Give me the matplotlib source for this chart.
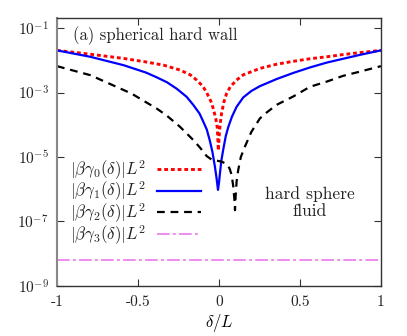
import numpy as np
import matplotlib
matplotlib.use("Agg")
import matplotlib.pyplot as plt

plt.rcParams['mathtext.fontset'] = 'cm'
plt.rcParams['font.family'] = ['cmr10', 'DejaVu Serif']
plt.rcParams['axes.formatter.use_mathtext'] = True

# delta/L sample points and log10 of |beta gamma_i(delta)| L^2
delta_g0 = [-1.0, -0.794, -0.589, -0.45, -0.341, -0.241, -0.177, -0.138, -0.10, -0.076,
            -0.05, -0.035, -0.02, -0.010, -0.004, 0.002, 0.008, 0.016, 0.03, 0.047,
            0.07, 0.109, 0.15, 0.253, 0.356, 0.459, 0.562, 0.665, 0.767, 0.870, 1.0]
log_g0 = [-1.69, -1.81, -1.94, -2.05, -2.15, -2.30, -2.45, -2.61, -2.80, -3.00,
          -3.27, -3.50, -3.80, -4.10, -4.80, -4.30, -3.95, -3.65, -3.30, -3.03,
          -2.82, -2.61, -2.45, -2.25, -2.12, -2.03, -1.95, -1.89, -1.82, -1.76, -1.69]

delta_g1 = [-1.0, -0.794, -0.589, -0.45, -0.383, -0.321, -0.261, -0.2, -0.159, -0.12,
            -0.097, -0.075, -0.056, -0.04, -0.025, -0.015, -0.006, 0.0, 0.006, 0.015,
            0.027, 0.042, 0.058, 0.08, 0.109, 0.15, 0.2, 0.253, 0.356, 0.459, 0.562,
            0.665, 0.767, 0.870, 1.0]
log_g1 = [-1.69, -1.89, -2.15, -2.38, -2.53, -2.68, -2.88, -3.13, -3.38, -3.65,
          -3.90, -4.15, -4.50, -4.85, -5.30, -5.65, -6.02, -5.80, -5.51, -5.10,
          -4.75, -4.35, -4.06, -3.75, -3.44, -3.15, -2.95, -2.80, -2.58, -2.39, -2.22,
          -2.07, -1.95, -1.83, -1.69]

delta_g2 = [-1.0, -0.794, -0.589, -0.54, -0.45, -0.383, -0.321, -0.241, -0.159, -0.115,
            -0.076, -0.045, -0.014, 0.02, 0.047, 0.065, 0.078, 0.088, 0.095, 0.099,
            0.103, 0.109, 0.119, 0.135, 0.160, 0.2, 0.253, 0.294, 0.356, 0.459, 0.562,
            0.665, 0.767, 0.870, 1.0]
log_g2 = [-2.18, -2.46, -2.92, -3.03, -3.30, -3.50, -3.72, -4.06, -4.47, -4.72,
          -4.97, -5.08, -5.11, -5.15, -5.22, -5.35, -5.55, -5.90, -6.30, -6.65,
          -6.20, -5.75, -5.40, -5.00, -4.68, -4.22, -3.80, -3.62, -3.38, -3.12, -2.82,
          -2.66, -2.48, -2.35, -2.18]

delta_g3 = [-1.0, 1.0]
log_g3 = [-8.21, -8.21]

labels = [r'$|\beta\gamma_0(\delta)|L^2$', r'$|\beta\gamma_1(\delta)|L^2$',
          r'$|\beta\gamma_2(\delta)|L^2$', r'$|\beta\gamma_3(\delta)|L^2$']
xticks = [-1, -0.5, 0, 0.5, 1]
xticklabels = ['-1', '-0.5', '0', '0.5', '1']
yticks = [1e-9, 1e-7, 1e-5, 1e-3, 1e-1]
yticklabels = [r'$10^{-9}$', r'$10^{-7}$', r'$10^{-5}$', r'$10^{-3}$', r'$10^{-1}$']

fig = plt.figure(figsize=(4.07, 3.36), dpi=100)
ax = fig.add_axes([0.140, 0.149, 0.796, 0.797])

ax.plot(delta_g0, 10**np.array(log_g0), color='#ff0000', lw=2.1, linestyle=(0, (1.3, 1.0)), label=labels[0])
ax.plot(delta_g1, 10**np.array(log_g1), color='#0000ff', lw=1.6, linestyle='-', label=labels[1])
ax.plot(delta_g2, 10**np.array(log_g2), color='black', lw=1.6, linestyle=(0, (3.5, 2.6)), label=labels[2])
ax.plot(delta_g3, 10**np.array(log_g3), color='#ee82ee', lw=1.3, linestyle=(0, (7, 1.8, 1.6, 1.8)), label=labels[3])

ax.set_yscale('log')
ax.set_xlim(-1, 1)
ax.set_ylim(1e-9, 0.204)
ax.set_xticks(xticks)
ax.set_xticklabels(xticklabels)
ax.set_yticks(yticks)
ax.set_yticklabels(yticklabels)
ax.minorticks_off()
ax.tick_params(direction='in', length=5, width=0.8, top=True, right=True,
               labelsize=11, colors='#333333', labelcolor='#222222')
ax.tick_params(axis='x', pad=7)
ax.tick_params(axis='y', pad=6)
for side in ['bottom', 'right', 'top']:
    ax.spines[side].set_color('#333333')
    ax.spines[side].set_linewidth(1.0)
ax.spines['left'].set_color('#888888')
ax.spines['left'].set_linewidth(1.5)

ax.set_xlabel(r'$\delta/L$', fontsize=12, labelpad=2)

ax.text(0.049, 0.935, '(a) spherical hard wall', transform=ax.transAxes,
        fontsize=12, ha='left', va='center', color='#222222')
ax.text(0.78, 0.31, 'hard sphere\nfluid', transform=ax.transAxes,
        fontsize=12.6, ha='center', va='center', color='#222222', linespacing=1.12)

leg = ax.legend(loc='upper left', bbox_to_anchor=(0.02, 0.503), frameon=False,
                markerfirst=False, fontsize=12.2, handlelength=2.6, handletextpad=0.6,
                labelspacing=-0.11, borderaxespad=0)
for t in leg.get_texts():
    t.set_color('#222222')

fig.savefig('out.png', dpi=100)
